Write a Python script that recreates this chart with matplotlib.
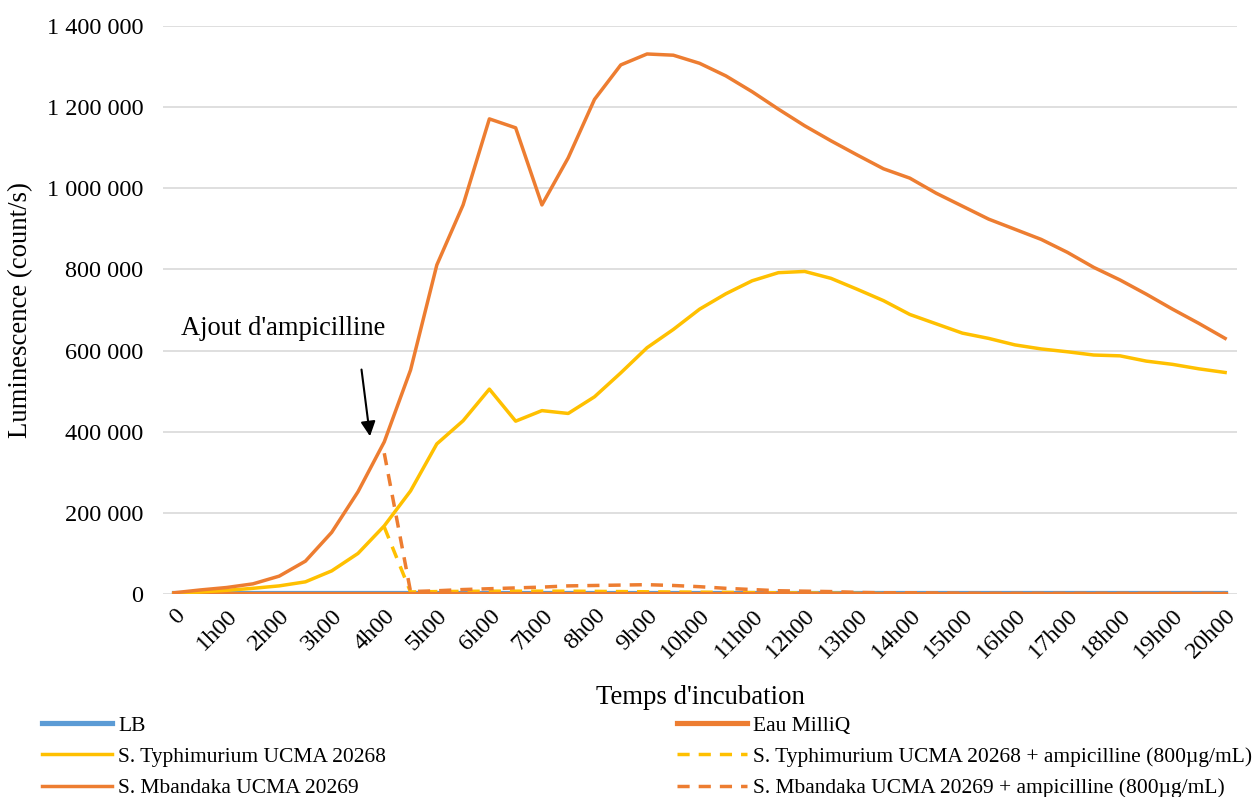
import matplotlib.pyplot as plt
from matplotlib.ticker import FuncFormatter

# Time points every 30 minutes, 0 to 20h00
time_labels = ["0" if h == 0 else f"{h}h00" for h in range(21)]

lb = [2500, 2500, 2500, 2500, 2500, 2500, 2500, 2500, 2500, 2500,
      2500, 2500, 2500, 2500, 2500, 2500, 2500, 2500, 2500, 2500,
      2500, 2500, 2500, 2500, 2500, 2500, 2500, 2500, 2500, 2500,
      2500, 2500, 2500, 2500, 2500, 2500, 2500, 2500, 2500, 2500, 2500]
eau = [300, 300, 300, 300, 300, 300, 300, 300, 300, 300,
       300, 300, 300, 300, 300, 300, 300, 300, 300, 300,
       300, 300, 300, 300, 300, 300, 300, 300, 300, 300,
       300, 300, 300, 300, 300, 300, 300, 300, 300, 300, 300]
typhi = [2000, 5000, 9000, 14000, 20000, 30000, 57000, 100000, 168000, 254000,
         370000, 427000, 505000, 426000, 452000, 445000, 486000, 545000, 607000, 652000,
         702000, 740000, 772000, 792000, 795000, 778000, 751000, 723000, 689000, 666000,
         643000, 630000, 614000, 604000, 597000, 589000, 587000, 574000, 566000, 555000, 546000]
typhi_amp = [None, None, None, None, None, None, None, None, 165000, 5000,
             6000, 6500, 7000, 7000, 7000, 7000, 6500, 6000, 5500, 5000,
             4500, 4000, 3500, 3000, 2500, 2000, 1500, 1000, 500, 0,
             0, 0, 0, 0, 0, 0, 0, 0, 0, 0, 0]
mband = [3000, 10000, 16000, 25000, 44000, 81000, 152000, 252000, 375000, 552000,
         811000, 959000, 1171000, 1149000, 959000, 1075000, 1219000, 1304000, 1331000, 1328000,
         1308000, 1277000, 1238000, 1195000, 1154000, 1117000, 1082000, 1048000, 1025000, 988000,
         956000, 924000, 899000, 874000, 842000, 805000, 774000, 739000, 702000, 667000, 630000]
mband_amp = [None, None, None, None, None, None, None, None, 347000, 6000,
             8000, 11000, 13000, 15000, 17000, 20000, 21000, 22000, 23000, 21000,
             18000, 14000, 11000, 8000, 7000, 6000, 4000, 3000, 3000, 2500,
             2000, 1500, 1500, 1500, 1500, 1500, 1500, 1500, 1500, 1500, 1500]

BLUE = "#5B9BD5"
ORANGE = "#ED7D31"
YELLOW = "#FFC000"

plt.rcParams["font.family"] = ["Liberation Serif", "DejaVu Serif"]

fig = plt.figure(figsize=(12.54, 7.97), dpi=100, facecolor="white")
ax = fig.add_axes([0.13, 0.2547, 0.8564, 0.7127])

x = list(range(len(mband)))

h_lb, = ax.plot(x, lb, color=BLUE, lw=3.75, label="LB", zorder=2)
h_tya, = ax.plot(x, typhi_amp, color=YELLOW, lw=2.5, dashes=(3.5, 2.6), zorder=2.2,
                 label="S. Typhimurium UCMA 20268 + ampicilline (800µg/mL)")
h_eau, = ax.plot(x, eau, color=ORANGE, lw=3.75, label="Eau MilliQ", zorder=2.5)
h_ty, = ax.plot(x, typhi, color=YELLOW, lw=2.5, label="S. Typhimurium UCMA 20268", zorder=3)
h_mb, = ax.plot(x, mband, color=ORANGE, lw=2.5, label="S. Mbandaka UCMA 20269", zorder=3)
h_mba, = ax.plot(x, mband_amp, color=ORANGE, lw=2.5, dashes=(3.5, 2.6), zorder=3,
                 label="S. Mbandaka UCMA 20269 + ampicilline (800µg/mL)")

ax.set_xlim(-0.42, 40.45)
ax.set_ylim(0, 1400000)
ax.set_yticks(range(0, 1400001, 200000))
ax.yaxis.set_major_formatter(FuncFormatter(lambda v, p: f"{int(v):,}".replace(",", " ")))
ax.set_xticks(range(0, 41, 2))
ax.set_xticklabels(time_labels, rotation=45, ha="right", rotation_mode="anchor")
ax.tick_params(axis="both", length=0, labelsize=17.5)
ax.tick_params(axis="x", pad=8)
ax.tick_params(axis="y", pad=14)
ax.grid(axis="y", color="#d9d9d9", lw=1.2)
ax.set_axisbelow(True)
for s in ax.spines.values():
    s.set_visible(False)

ax.set_ylabel("Luminescence (count/s)", fontsize=19.3, labelpad=10)
ax.set_xlabel("Temps d'incubation", fontsize=19.3, labelpad=16)

ax.text(0.25, 655000, "Ajout d'ampicilline", fontsize=19.1, ha="left", va="center")
ax.annotate("", xy=(7.47, 382000), xytext=(7.12, 560000),
            arrowprops=dict(arrowstyle="-|>", color="black", lw=1.5, mutation_scale=22))

handles = [h_lb, h_ty, h_mb, h_eau, h_tya, h_mba]
fig.legend(handles=handles, labels=[h.get_label() for h in handles],
           loc="upper left", bbox_to_anchor=(0.027, 0.113), ncol=2, frameon=False,
           fontsize=15.5, handlelength=3.25, columnspacing=13.5, labelspacing=0.52,
           handletextpad=0.28, borderaxespad=0)

fig.savefig("out.png", dpi=100, facecolor="white")
